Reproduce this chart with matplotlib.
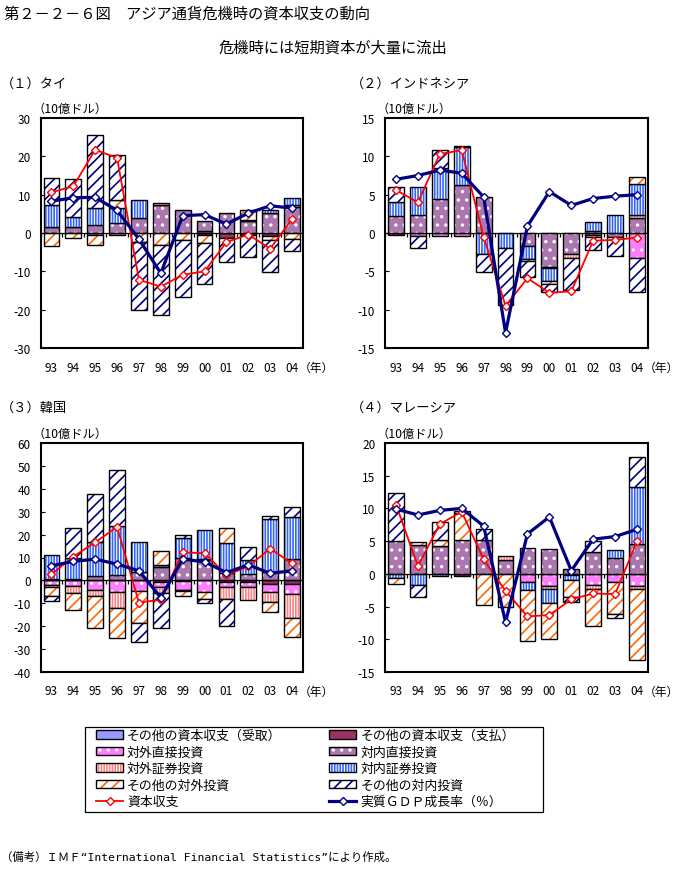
import numpy as np
import matplotlib.pyplot as plt
import matplotlib.patches as mpatches
from matplotlib.lines import Line2D
from matplotlib.markers import TICKDOWN

plt.rcParams['font.family'] = ['Noto Sans CJK JP', 'DejaVu Sans']
plt.rcParams['axes.unicode_minus'] = False
plt.rcParams['hatch.linewidth'] = 1.2

years = ['93', '94', '95', '96', '97', '98', '99', '00', '01', '02', '03', '04']

# (1) タイ
t_rec = [0, 0, 0, 0, 0, 0, 0, 0.4, 0, 0, 0, 0]
t_pay = [0, 0, 0, 0, 0, 0, 0, -0.4, -1.3, -0.5, -0.9, 0]
t_odi = [0, 0, -0.4, -0.5, 0, 0, 0, 0, 0, 0, 0, 0]
t_fdi = [1.5, 1.5, 2.2, 2.5, 3.9, 7.2, 6.1, 2.8, 5.3, 3.2, 5.2, 6.8]
t_opi = [0, 0, 0, 0, 0, 0.6, 0, 0, 0, 0.3, 0, 0.6]
t_ipi = [5.8, 2.7, 4.3, 4.0, 4.6, 0, 0, 0, 0, 0, 0.9, 1.8]
t_ooi = [-3.5, -1.3, -2.7, 2.2, -2.4, -3.1, -1.7, -2.3, 0, 2.6, -0.8, -1.5]
t_ioi = [7.1, 9.9, 19.1, 11.7, -17.8, -18.4, -15.1, -10.6, -6.3, -5.8, -8.5, -3.3]
t_bal = [10.6, 12.2, 21.7, 19.6, -12.2, -14.0, -10.9, -10.0, -2.4, -0.4, -4.1, 3.7]
t_gdp = [8.3, 9.2, 9.3, 5.9, -1.6, -10.5, 4.5, 4.8, 2.3, 5.2, 7.1, 6.5]

# (2) インドネシア
i_rec = [0, 0, 0, 0, 0, 0, 0, 0, 0, 0, 0, 0]
i_pay = [-0.2, 0, 0, 0, 0, 0, 0, 0, 0, 0, 0, 0]
i_odi = [0, -0.4, -0.4, -0.4, 0, 0, 0, 0, 0, -0.2, 0, -3.3]
i_fdi = [2.2, 2.3, 4.5, 6.3, 4.7, 0, -1.7, -4.4, -2.7, 0.3, -0.5, 1.9]
i_opi = [0, 0, 0, 0, 0, 0, 0, -0.2, -0.6, 0, 0, 0.4]
i_ipi = [1.8, 3.7, 4.0, 4.9, -2.7, -2.0, -1.7, -1.7, 0, 1.1, 2.3, 4.1]
i_ooi = [0, 0, 0, 0, 0, 0, -0.3, -0.3, 0, -0.3, 0, 0.9]
i_ioi = [2.0, -1.6, 2.3, 0.2, -2.4, -7.4, -2.1, -1.1, -4.1, -1.7, -2.5, -4.4]
i_bal = [5.6, 4.0, 10.3, 10.8, -0.5, -9.5, -5.9, -7.8, -7.6, -1.0, -0.9, -0.6]
i_gdp = [7.0, 7.5, 8.2, 7.8, 4.7, -13.0, 0.9, 5.4, 3.6, 4.5, 4.8, 5.0]

# (3) 韓国
k_rec = [0, 0, 0, 0, 0, 0, 0, 0, 0, 0, 0, 0]
k_pay = [0, 0, 0, 0, 0, -0.6, -0.4, 0, -0.8, -0.7, -1.4, -1.6]
k_odi = [-1.8, -2.4, -4.1, -5.0, -4.8, -2.5, -3.6, -5.0, -2.0, -2.4, -3.6, -4.3]
k_fdi = [0.8, 0.8, 2.0, 2.4, 3.7, 5.9, 9.8, 9.0, 3.1, 2.9, 3.8, 9.5]
k_opi = [-1.0, -2.9, -2.7, -6.9, 0, -2.2, -0.6, 0.4, -5.5, -5.6, -4.4, -10.5]
k_ipi = [10.4, 8.8, 14.6, 21.4, 13.2, 0.8, 8.7, 12.5, 13.2, 5.8, 23.0, 18.3]
k_ooi = [-4.2, -7.6, -14.0, -13.2, -13.7, 6.2, -2.4, -3.2, 6.5, 0, -4.6, -8.2]
k_ioi = [-1.9, 13.5, 21.0, 24.5, -8.2, -15.5, 1.4, -1.5, -11.6, 5.7, 1.4, 4.1]
k_bal = [2.6, 10.4, 16.6, 23.4, -9.7, -8.4, 12.2, 11.9, 2.3, 6.1, 13.9, 7.4]
k_gdp = [6.4, 8.3, 9.3, 7.1, 4.2, -7.5, 9.3, 8.1, 3.4, 6.8, 3.1, 4.2]

# (4) マレーシア
m_rec = [0, 0, 0, 0, 0, 0, 0, 0, 0, 0, 0, 0]
m_pay = [0, 0, 0, -0.3, 0, 0, 0, 0, -0.2, 0, 0, 0]
m_odi = [0, 0, 0, 0, 0, 0, -1.2, -1.8, 0, -1.7, -1.3, -1.8]
m_fdi = [5.0, 4.4, 4.2, 5.1, 5.2, 2.1, 4.0, 3.8, 0.7, 3.3, 2.5, 4.6]
m_opi = [0, 0, 0, 0, 0, 0.6, 0, -0.5, 0, -0.6, 0, -0.5]
m_ipi = [-0.7, -1.7, -0.4, 0, 0, 0, -1.2, -2.2, -0.7, 0, 1.1, 8.7]
m_ooi = [-0.9, 0.4, 1.0, 4.2, -4.8, -5.1, -7.9, -5.5, -2.7, -5.6, -4.8, -10.8]
m_ioi = [7.4, -1.9, 2.8, 0.3, 1.7, 0, 0, 0, -0.7, 1.7, -0.7, 4.5]
m_bal = [10.6, 1.2, 7.6, 9.5, 2.2, -2.6, -6.5, -6.3, -3.9, -3.0, -3.1, 5.0]
m_gdp = [9.9, 9.0, 9.7, 10.0, 7.3, -7.4, 6.1, 8.7, 0.5, 5.3, 5.7, 6.8]

# series styles: label, face colour, hatch colour, hatch
styles = [
    ('その他の資本収支（受取）', '#9999FF', None, None),
    ('その他の資本収支（支払）', '#993366', None, None),
    ('対外直接投資', '#FF7DFF', 'white', '..'),
    ('対内直接投資', '#AA78AF', 'white', '..'),
    ('対外証券投資', 'white', '#FF8080', '||||||'),
    ('対内証券投資', 'white', '#3366FF', '||||||'),
    ('その他の対外投資', 'white', '#FF6600', '///'),
    ('その他の対内投資', 'white', '#000080', '///'),
]
RED = '#FF0000'
NAVY = '#000080'
FS = 8.5


def draw_panel(ax, parts, bal, gdp, lo, hi, step):
    x = np.arange(len(years))
    pos = np.zeros(len(x))
    neg = np.zeros(len(x))
    for (label, face, hcol, hatch), vals in zip(styles, parts):
        v = np.asarray(vals, float)
        base = np.where(v >= 0, pos, neg)
        m = v != 0
        if hatch:
            ax.bar(x[m], v[m], 0.72, bottom=base[m], color=face, edgecolor=hcol,
                   hatch=hatch, linewidth=0, zorder=2)
            ax.bar(x[m], v[m], 0.72, bottom=base[m], fill=False,
                   edgecolor='black', linewidth=1.0, zorder=2)
        else:
            ax.bar(x[m], v[m], 0.72, bottom=base[m], color=face,
                   edgecolor='black', linewidth=1.0, zorder=2)
        pos = pos + np.where(v > 0, v, 0)
        neg = neg + np.where(v < 0, v, 0)

    edges = np.arange(len(years) + 1) - 0.5
    ax.axhline(0, color='black', lw=0.9, zorder=3)
    ax.plot(edges, np.zeros(len(edges)), ls='none', marker=TICKDOWN, ms=3,
            mew=0.9, color='black', zorder=3)

    ax.plot(x, bal, color=RED, lw=1.3, marker='D', ms=4, mfc='white',
            mec=RED, mew=1, zorder=4)
    ax.plot(x, gdp, color=NAVY, lw=2.3, marker='D', ms=4.5, mfc='white',
            mec=NAVY, mew=1, zorder=5)

    ax.set_xlim(-0.5, len(years) - 0.5)
    ax.set_ylim(lo, hi)
    ax.set_yticks(np.arange(lo, hi + step / 2, step))
    ax.set_xticks(x)
    ax.set_xticklabels(years)
    for s in ax.spines.values():
        s.set_linewidth(1.5)
    ax.tick_params(axis='y', direction='in', length=3, width=0.8, pad=7,
                   labelsize=FS)
    ax.tick_params(axis='x', length=0, pad=9, labelsize=FS)
    ax.annotate('（10億ドル）', xy=(0, 1), xycoords='axes fraction',
                xytext=(-6, 2), textcoords='offset points', ha='left',
                va='bottom', fontsize=8.8)
    ax.annotate('（年）', xy=(1, 0), xycoords='axes fraction',
                xytext=(-3, -9), textcoords='offset points', ha='left',
                va='top', fontsize=FS)


W, H = 683, 870
fig = plt.figure(figsize=(W / 100, H / 100), dpi=100)

ax1 = fig.add_axes([40.5 / W, 1 - 349 / H, 262.5 / W, 230 / H])
ax2 = fig.add_axes([385 / W, 1 - 349 / H, 263 / W, 230 / H])
ax3 = fig.add_axes([40.5 / W, 1 - 673 / H, 262.5 / W, 229 / H])
ax4 = fig.add_axes([385 / W, 1 - 673 / H, 263 / W, 229 / H])

draw_panel(ax1, [t_rec, t_pay, t_odi, t_fdi, t_opi, t_ipi, t_ooi, t_ioi],
           t_bal, t_gdp, -30, 30, 10)
draw_panel(ax2, [i_rec, i_pay, i_odi, i_fdi, i_opi, i_ipi, i_ooi, i_ioi],
           i_bal, i_gdp, -15, 15, 5)
draw_panel(ax3, [k_rec, k_pay, k_odi, k_fdi, k_opi, k_ipi, k_ooi, k_ioi],
           k_bal, k_gdp, -40, 60, 10)
draw_panel(ax4, [m_rec, m_pay, m_odi, m_fdi, m_opi, m_ipi, m_ooi, m_ioi],
           m_bal, m_gdp, -15, 20, 5)

fig.text(4 / W, 1 - 14 / H, '第２－２－６図　アジア通貨危機時の資本収支の動向',
         va='center', fontsize=11)
fig.text(333 / W, 1 - 48 / H, '危機時には短期資本が大量に流出',
         ha='center', va='center', fontsize=11)
fig.text(1 / W, 1 - 84 / H, '（１）タイ', va='center', fontsize=9.5)
fig.text(351 / W, 1 - 84 / H, '（２）インドネシア', va='center', fontsize=9.5)
fig.text(1 / W, 1 - 408 / H, '（３）韓国', va='center', fontsize=9.5)
fig.text(351 / W, 1 - 408 / H, '（４）マレーシア', va='center', fontsize=9.5)
fig.text(1 / W, 1 - 857 / H,
         '（備考）ＩＭＦ“International Financial Statistics”により作成。',
         va='center', fontsize=8.2,
         family=['DejaVu Sans Mono', 'Noto Sans CJK JP'])

# legend
handles = []
for label, face, hcol, hatch in styles:
    if hatch:
        h = (mpatches.Patch(facecolor=face, edgecolor=hcol, hatch=hatch, linewidth=0),
             mpatches.Patch(fill=False, edgecolor='black', linewidth=1.0))
    else:
        h = mpatches.Patch(facecolor=face, edgecolor='black', linewidth=1.0)
    handles.append(h)
handles.append(Line2D([], [], color=RED, lw=1.3, marker='D', ms=4,
                      mfc='white', mec=RED, mew=1))
handles.append(Line2D([], [], color=NAVY, lw=2.3, marker='D', ms=4.5,
                      mfc='white', mec=NAVY, mew=1))
labels = [s[0] for s in styles] + ['資本収支', '実質ＧＤＰ成長率（％）']

order = [0, 2, 4, 6, 8, 1, 3, 5, 7, 9]
leg = fig.legend([handles[i] for i in order], [labels[i] for i in order],
                 loc='upper left', bbox_to_anchor=(96 / W, 1 - 730 / H),
                 ncol=2, frameon=False, borderaxespad=0, borderpad=0,
                 fontsize=9.3, handlelength=2.1, handleheight=0.6,
                 handletextpad=0.3, labelspacing=0.27, columnspacing=3.7)
fig.add_artist(mpatches.Rectangle((85 / W, 1 - 813 / H), 458 / W, 85 / H,
                                  transform=fig.transFigure, fill=False,
                                  edgecolor='black', linewidth=0.9))

fig.savefig('out.png', dpi=100, facecolor='white')
